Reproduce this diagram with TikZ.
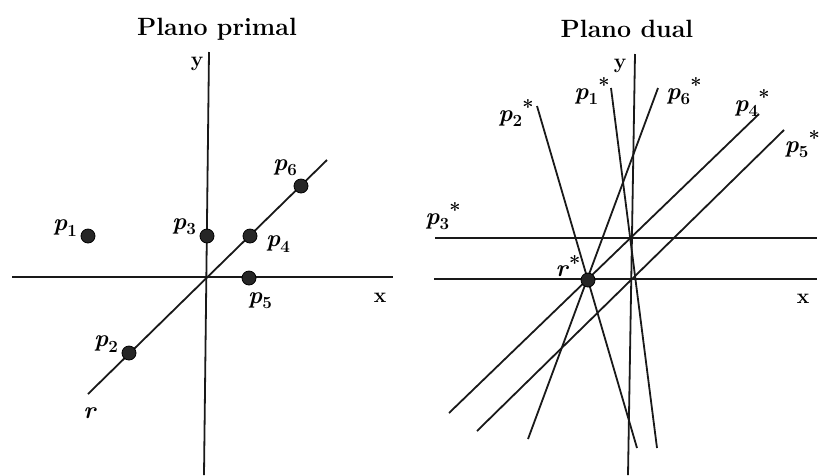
\documentclass[tikz,border=0pt]{standalone}
\newcommand\plab[2]{\textbf{\textit{#1}}\raisebox{-0.22em}{\fontsize{17}{17}\selectfont\bfseries #2}}
\newcommand\pstar{\raisebox{0.28em}{\fontsize{20}{20}\selectfont\bfseries *}}
\begin{document}
\begin{tikzpicture}[x=1pt,y=-1pt,
  ln/.style={line width=1.8pt, black!90},
  dot/.style={circle, fill=black!85, draw=black, line width=0.8pt, inner sep=0pt, minimum size=14pt},
  lab/.style={font=\fontsize{24}{28}\selectfont, inner sep=0pt},
  axl/.style={font=\fontsize{21}{25}\selectfont\bfseries, inner sep=0pt},
  ttl/.style={font=\fontsize{25}{30}\selectfont\bfseries, inner sep=0pt}]
\useasboundingbox (0,0) rectangle (821,475);

% titles
\node[ttl] (t1) at (217,29) {Plano primal};
\node[ttl] (t2) at (627,29) {Plano dual};

% ---------- primal plane ----------
\coordinate (ayt) at (209,52);
\coordinate (ayb) at (204,475);
\coordinate (axl) at (12,277);
\coordinate (axr) at (393,277);
\coordinate (rs) at (88,394);
\coordinate (re) at (327,160);
\draw[ln] (ayt) -- (ayb);
\draw[ln] (axl) -- (axr);
\draw[ln] (rs) -- (re);

\node[dot] (p1) at (88,236) {};
\node[dot] (p2) at (129,353) {};
\node[dot] (p3) at (207,236) {};
\node[dot] (p4) at (250,236) {};
\node[dot] (p5) at (249,278) {};
\node[dot] (p6) at (301,186) {};

\node[lab] (lp1) at (65,228) {\plab{p}{1}};
\node[lab] (lp2) at (106,344) {\plab{p}{2}};
\node[lab] (lp3) at (184,227) {\plab{p}{3}};
\node[lab] (lp4) at (278,244) {\plab{p}{4}};
\node[lab] (lp5) at (260,301) {\plab{p}{5}};
\node[lab] (lp6) at (285,168) {\plab{p}{6}};
\node[lab] (lr) at (90,413) {\textbf{\textit{r}}};
\node[axl] (ly1) at (197,64) {y};
\node[axl] (lx1) at (380,298) {x};

% ---------- dual plane ----------
\coordinate (byt) at (635,54);
\coordinate (byb) at (628,475);
\coordinate (bxl) at (434,279);
\coordinate (bxr) at (817,279);
\coordinate (q3l) at (435,238);
\coordinate (q3r) at (817,238);
\coordinate (q2t) at (537,106);
\coordinate (q2b) at (637,448);
\coordinate (q1t) at (611,88);
\coordinate (q1b) at (657,448);
\coordinate (q6t) at (658,88);
\coordinate (q6b) at (528,439);
\coordinate (q4t) at (759,114);
\coordinate (q4b) at (449,413);
\coordinate (q5t) at (784,130);
\coordinate (q5b) at (477,431);

\draw[ln] (byt) -- (byb);
\draw[ln] (bxl) -- (bxr);
\draw[ln] (q3l) -- (q3r);
\draw[ln] (q2t) -- (q2b);
\draw[ln] (q1t) -- (q1b);
\draw[ln] (q6t) -- (q6b);
\draw[ln] (q4t) -- (q4b);
\draw[ln] (q5t) -- (q5b);

\node[dot] (rstar) at (588,280) {};

\node[lab] (lq3) at (443,216) {\plab{p}{3}\pstar};
\node[lab] (lq2) at (516,113) {\plab{p}{2}\pstar};
\node[lab] (lq1) at (592,91) {\plab{p}{1}\pstar};
\node[lab] (lq6) at (684,91) {\plab{p}{6}\pstar};
\node[lab] (lq4) at (752,103) {\plab{p}{4}\pstar};
\node[lab, anchor=east] (lq5) at (820,144) {\plab{p}{5}\pstar};
\node[lab] (lrs) at (568,266) {\textbf{\textit{r}}\pstar};
\node[axl] (ly2) at (620,66) {y};
\node[axl] (lx2) at (803,299) {x};
\end{tikzpicture}
\end{document}
